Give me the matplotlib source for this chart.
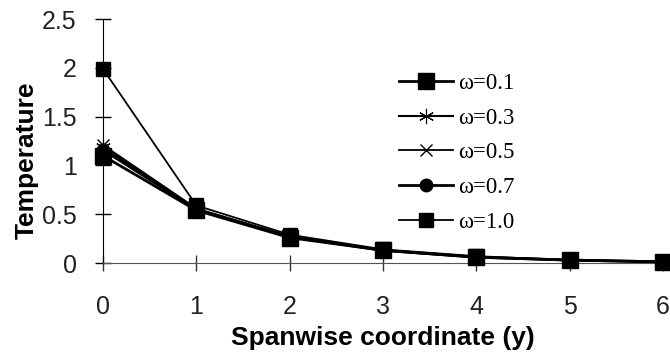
import matplotlib
matplotlib.use("Agg")
import matplotlib.pyplot as plt

y_coord = [0, 1, 2, 3, 4, 5, 6]
t_w01 = [1.10, 0.54, 0.26, 0.13, 0.06, 0.03, 0.012]
t_w03 = [1.19, 0.55, 0.27, 0.13, 0.06, 0.03, 0.012]
t_w05 = [1.21, 0.56, 0.27, 0.13, 0.06, 0.03, 0.012]
t_w07 = [1.16, 0.55, 0.27, 0.13, 0.06, 0.03, 0.012]
t_w10 = [1.99, 0.59, 0.29, 0.14, 0.07, 0.03, 0.012]
labels = ["ω=0.1", "ω=0.3", "ω=0.5", "ω=0.7", "ω=1.0"]
xticks = [0, 1, 2, 3, 4, 5, 6]
yticks = [0, 0.5, 1, 1.5, 2, 2.5]
yticklabels = ["0", "0.5", "1", "1.5", "2", "2.5"]

fig = plt.figure(figsize=(6.7, 3.54), dpi=100)
ax = fig.add_axes([0.1537, 0.257, 0.836, 0.689])

series = [t_w01, t_w03, t_w05, t_w07, t_w10]
markers = ["s", (6, 2, 0), "x", "o", "s"]
msizes = [11, 11, 9, 9, 9.5]
lws = [2.0, 1.5, 1.3, 2.0, 1.3]
mews = [1.0, 0.8, 1.0, 1.0, 1.0]
for s, m, ms, lw, mew, lab in zip(series, markers, msizes, lws, mews, labels):
    ax.plot(y_coord, s, color="black", marker=m, markersize=ms, linewidth=lw,
            markeredgewidth=mew, label=lab, clip_on=False, zorder=3)

ax.set_xlim(0, 6)
ax.set_ylim(0, 2.5)
ax.set_xticks(xticks)
ax.set_yticks(yticks)
ax.set_yticklabels(yticklabels)
for sp in ["top", "right"]:
    ax.spines[sp].set_visible(False)
ax.spines["left"].set_color("black")
ax.spines["bottom"].set_color("#555555")
ax.tick_params(axis="both", direction="inout", length=12, width=1, labelsize=18,
               colors="black")
ax.tick_params(axis="x", pad=17, color="#333333")
ax.tick_params(axis="y", pad=13)
for lbl in ax.get_xticklabels() + ax.get_yticklabels():
    lbl.set_family("Liberation Sans")
    lbl.set_color("#222222")

ax.set_xlabel("Spanwise coordinate (y)", fontsize=19, fontweight="bold",
              family="Liberation Sans", labelpad=5)
ax.set_ylabel("Temperature", fontsize=19, fontweight="bold",
              family="Liberation Sans", labelpad=2, y=0.422)

leg = ax.legend(loc="upper left", bbox_to_anchor=(0.529, 0.78), frameon=False,
                prop={"family": "Liberation Serif", "size": 16.5},
                handlelength=2.35, handletextpad=0.2, labelspacing=0.6,
                borderpad=0, borderaxespad=0)

fig.savefig("out.png", dpi=100)
